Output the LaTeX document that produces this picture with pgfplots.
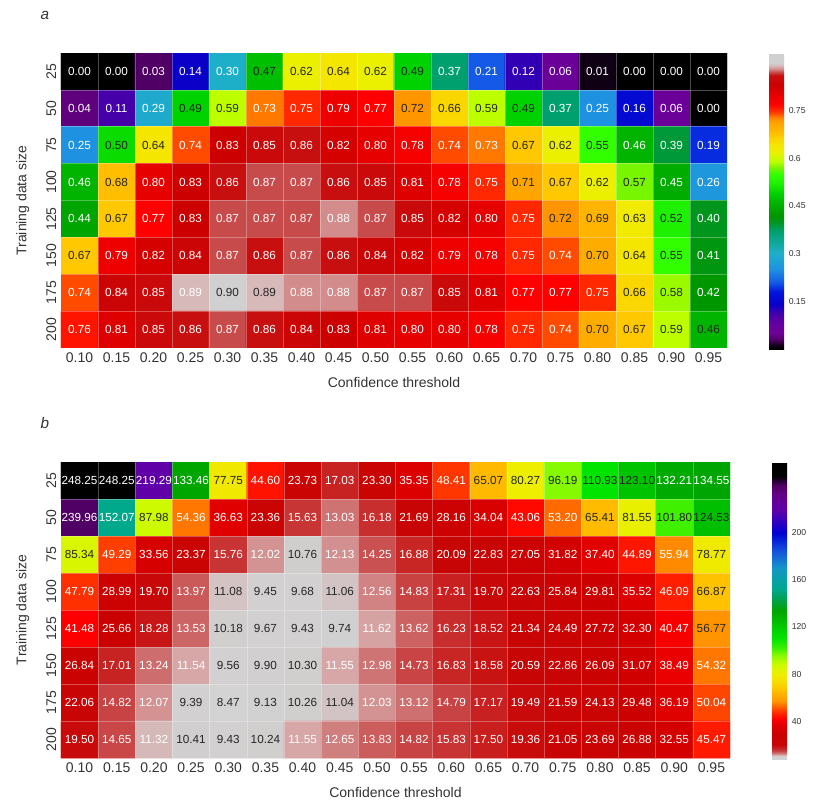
\documentclass[border=0pt]{standalone}
\usepackage{fontspec}
\setmainfont{Liberation Sans}
\usepackage{pgfplots}
\usepackage{pgfplotstable}
\pgfplotsset{compat=1.18}

% accuracy (panel a), 8 rows (25..200) x 18 thresholds (0.10..0.95)
% c = text darkness: 0 = white text, 85 = dark text
\pgfplotstableread[row sep=\\]{
v c \\
0.00 0 \\ 0.00 0 \\ 0.03 0 \\ 0.14 0 \\ 0.30 0 \\ 0.47 85 \\ 0.62 85 \\ 0.64 85 \\ 0.62 85 \\ 0.49 85 \\ 0.37 0 \\ 0.21 0 \\ 0.12 0 \\ 0.06 0 \\ 0.01 0 \\ 0.00 0 \\ 0.00 0 \\ 0.00 0 \\
0.04 0 \\ 0.11 0 \\ 0.29 0 \\ 0.49 85 \\ 0.59 85 \\ 0.73 0 \\ 0.75 0 \\ 0.79 0 \\ 0.77 0 \\ 0.72 85 \\ 0.66 85 \\ 0.59 85 \\ 0.49 85 \\ 0.37 0 \\ 0.25 0 \\ 0.16 0 \\ 0.06 0 \\ 0.00 0 \\
0.25 0 \\ 0.50 85 \\ 0.64 85 \\ 0.74 0 \\ 0.83 0 \\ 0.85 0 \\ 0.86 0 \\ 0.82 0 \\ 0.80 0 \\ 0.78 0 \\ 0.74 0 \\ 0.73 0 \\ 0.67 85 \\ 0.62 85 \\ 0.55 85 \\ 0.46 0 \\ 0.39 0 \\ 0.19 0 \\
0.46 0 \\ 0.68 85 \\ 0.80 0 \\ 0.83 0 \\ 0.86 0 \\ 0.87 0 \\ 0.87 0 \\ 0.86 0 \\ 0.85 0 \\ 0.81 0 \\ 0.78 0 \\ 0.75 0 \\ 0.71 85 \\ 0.67 85 \\ 0.62 85 \\ 0.57 85 \\ 0.45 0 \\ 0.26 0 \\
0.44 0 \\ 0.67 85 \\ 0.77 0 \\ 0.83 0 \\ 0.87 0 \\ 0.87 0 \\ 0.87 0 \\ 0.88 0 \\ 0.87 0 \\ 0.85 0 \\ 0.82 0 \\ 0.80 0 \\ 0.75 0 \\ 0.72 85 \\ 0.69 85 \\ 0.63 85 \\ 0.52 85 \\ 0.40 0 \\
0.67 85 \\ 0.79 0 \\ 0.82 0 \\ 0.84 0 \\ 0.87 0 \\ 0.86 0 \\ 0.87 0 \\ 0.86 0 \\ 0.84 0 \\ 0.82 0 \\ 0.79 0 \\ 0.78 0 \\ 0.75 0 \\ 0.74 0 \\ 0.70 85 \\ 0.64 85 \\ 0.55 85 \\ 0.41 0 \\
0.74 0 \\ 0.84 0 \\ 0.85 0 \\ 0.89 0 \\ 0.90 85 \\ 0.89 85 \\ 0.88 0 \\ 0.88 0 \\ 0.87 0 \\ 0.87 0 \\ 0.85 0 \\ 0.81 0 \\ 0.77 0 \\ 0.77 0 \\ 0.75 0 \\ 0.66 85 \\ 0.58 85 \\ 0.42 0 \\
0.76 0 \\ 0.81 0 \\ 0.85 0 \\ 0.86 0 \\ 0.87 0 \\ 0.86 0 \\ 0.84 0 \\ 0.83 0 \\ 0.81 0 \\ 0.80 0 \\ 0.80 0 \\ 0.78 0 \\ 0.75 0 \\ 0.74 0 \\ 0.70 85 \\ 0.67 85 \\ 0.59 85 \\ 0.46 85 \\
}\tabA

% time (panel b)
\pgfplotstableread[row sep=\\]{
v c \\
248.25 0 \\ 248.25 0 \\ 219.29 0 \\ 133.46 0 \\ 77.75 85 \\ 44.60 0 \\ 23.73 0 \\ 17.03 0 \\ 23.30 0 \\ 35.35 0 \\ 48.41 0 \\ 65.07 85 \\ 80.27 85 \\ 96.19 85 \\ 110.93 85 \\ 123.10 85 \\ 132.21 0 \\ 134.55 0 \\
239.96 0 \\ 152.07 0 \\ 87.98 85 \\ 54.36 0 \\ 36.63 0 \\ 23.36 0 \\ 15.63 0 \\ 13.03 0 \\ 16.18 0 \\ 21.69 0 \\ 28.16 0 \\ 34.04 0 \\ 43.06 0 \\ 53.20 0 \\ 65.41 85 \\ 81.55 85 \\ 101.80 85 \\ 124.53 85 \\
85.34 85 \\ 49.29 0 \\ 33.56 0 \\ 23.37 0 \\ 15.76 0 \\ 12.02 0 \\ 10.76 85 \\ 12.13 0 \\ 14.25 0 \\ 16.88 0 \\ 20.09 0 \\ 22.83 0 \\ 27.05 0 \\ 31.82 0 \\ 37.40 0 \\ 44.89 0 \\ 55.94 0 \\ 78.77 85 \\
47.79 0 \\ 28.99 0 \\ 19.70 0 \\ 13.97 0 \\ 11.08 85 \\ 9.45 85 \\ 9.68 85 \\ 11.06 85 \\ 12.56 0 \\ 14.83 0 \\ 17.31 0 \\ 19.70 0 \\ 22.63 0 \\ 25.84 0 \\ 29.81 0 \\ 35.52 0 \\ 46.09 0 \\ 66.87 85 \\
41.48 0 \\ 25.66 0 \\ 18.28 0 \\ 13.53 0 \\ 10.18 85 \\ 9.67 85 \\ 9.43 85 \\ 9.74 85 \\ 11.62 0 \\ 13.62 0 \\ 16.23 0 \\ 18.52 0 \\ 21.34 0 \\ 24.49 0 \\ 27.72 0 \\ 32.30 0 \\ 40.47 0 \\ 56.77 85 \\
26.84 0 \\ 17.01 0 \\ 13.24 0 \\ 11.54 0 \\ 9.56 85 \\ 9.90 85 \\ 10.30 85 \\ 11.55 0 \\ 12.98 0 \\ 14.73 0 \\ 16.83 0 \\ 18.58 0 \\ 20.59 0 \\ 22.86 0 \\ 26.09 0 \\ 31.07 0 \\ 38.49 0 \\ 54.32 0 \\
22.06 0 \\ 14.82 0 \\ 12.07 0 \\ 9.39 85 \\ 8.47 85 \\ 9.13 85 \\ 10.26 85 \\ 11.04 85 \\ 12.03 0 \\ 13.12 0 \\ 14.79 0 \\ 17.17 0 \\ 19.49 0 \\ 21.59 0 \\ 24.13 0 \\ 29.48 0 \\ 36.19 0 \\ 50.04 0 \\
19.50 0 \\ 14.65 0 \\ 11.32 0 \\ 10.41 85 \\ 9.43 85 \\ 10.24 85 \\ 11.55 0 \\ 12.65 0 \\ 13.83 0 \\ 14.82 0 \\ 15.83 0 \\ 17.50 0 \\ 19.36 0 \\ 21.05 0 \\ 23.69 0 \\ 26.88 0 \\ 32.55 0 \\ 45.47 0 \\
}\tabB

\pgfplotsset{
  % positions = value x 100
  colormap={topmap}{
    rgb255(0pt)=(0,0,0) rgb255(1pt)=(15,0,20) rgb255(3pt)=(80,0,100) rgb255(5pt)=(110,0,150)
    rgb255(8pt)=(100,0,160) rgb255(11pt)=(70,0,170) rgb255(14pt)=(10,0,200) rgb255(18pt)=(0,20,220)
    rgb255(21pt)=(20,90,230) rgb255(25pt)=(30,145,225) rgb255(30pt)=(30,175,200) rgb255(37pt)=(0,160,110)
    rgb255(40pt)=(0,150,30) rgb255(42pt)=(0,150,0) rgb255(46pt)=(0,180,0) rgb255(49pt)=(0,210,0)
    rgb255(52pt)=(30,240,0) rgb255(55pt)=(50,255,0) rgb255(57pt)=(120,245,0) rgb255(59pt)=(190,255,0)
    rgb255(62pt)=(235,240,0) rgb255(64pt)=(245,230,0) rgb255(66pt)=(250,215,0) rgb255(67pt)=(255,200,0)
    rgb255(69pt)=(255,180,0) rgb255(71pt)=(255,165,0) rgb255(72pt)=(255,150,0) rgb255(73pt)=(255,120,0)
    rgb255(74pt)=(255,75,0) rgb255(75pt)=(255,40,0) rgb255(77pt)=(255,0,0) rgb255(80pt)=(230,0,0)
    rgb255(83pt)=(205,0,0) rgb255(86pt)=(200,15,15) rgb255(87pt)=(200,75,75) rgb255(88pt)=(210,140,140)
    rgb255(89pt)=(215,185,185) rgb255(90pt)=(208,208,208) rgb255(93pt)=(208,208,208)},
  % positions = 4 x (value - 8)
  colormap={botmap}{
    rgb255(0pt)=(212,212,212) rgb255(11pt)=(208,205,205) rgb255(13pt)=(212,190,190) rgb255(14pt)=(215,168,168)
    rgb255(16pt)=(212,148,148) rgb255(20pt)=(206,115,115) rgb255(24pt)=(202,88,88) rgb255(28pt)=(200,62,62)
    rgb255(36pt)=(200,35,35) rgb255(48pt)=(200,5,5) rgb255(88pt)=(205,0,0) rgb255(116pt)=(225,0,0)
    rgb255(136pt)=(255,0,0) rgb255(152pt)=(255,30,0) rgb255(168pt)=(255,70,0) rgb255(184pt)=(255,115,0)
    rgb255(196pt)=(255,150,0) rgb255(216pt)=(255,172,0) rgb255(232pt)=(255,190,0) rgb255(256pt)=(250,215,0)
    rgb255(288pt)=(238,238,0) rgb255(320pt)=(205,250,0) rgb255(352pt)=(135,250,0) rgb255(376pt)=(60,240,0)
    rgb255(412pt)=(0,228,0) rgb255(460pt)=(0,195,0) rgb255(504pt)=(0,165,0) rgb255(548pt)=(0,160,90)
    rgb255(576pt)=(0,168,140) rgb255(648pt)=(20,150,200) rgb255(708pt)=(20,80,220) rgb255(768pt)=(0,0,210)
    rgb255(844pt)=(95,0,170) rgb255(896pt)=(100,0,140) rgb255(928pt)=(80,0,100) rgb255(960pt)=(0,0,0)
    rgb255(1008pt)=(0,0,0)},
  heat/.style={
    scale only axis, enlargelimits=false, axis on top,
    xmin=-0.5, xmax=17.5, ymin=-0.5, ymax=7.5, y dir=reverse,
    xtick={0,...,17}, ytick={0,...,7},
    xticklabels={0.10,0.15,0.20,0.25,0.30,0.35,0.40,0.45,0.50,0.55,0.60,0.65,0.70,0.75,0.80,0.85,0.90,0.95},
    yticklabels={25,50,75,100,125,150,175,200},
    minor xtick={0.5,1.5,...,16.5}, minor ytick={0.5,1.5,...,6.5},
    xminorgrids, yminorgrids, minor grid style={white, line width=0.4pt, opacity=0.3},
    yticklabel style={rotate=90, anchor=south},
    major tick length=0pt, minor tick length=0pt, axis line style={draw=none},
    tick label style={font=\fontsize{10.5}{12}\selectfont, text=black!80},
    label style={font=\fontsize{10.5}{12}\selectfont, text=black!80},
    xlabel={Confidence threshold}, ylabel={Training data size},
    xlabel style={yshift=-4pt},
    ylabel style={yshift=6pt},
    colorbar,
  },
  cbar/.style={at={(parent axis.north east)}, anchor=north west, xshift=23pt,
    scale only axis, width=11.25pt, major tick length=0pt, axis line style={draw=none},
    yticklabel style={font=\fontsize{6.5}{7}\selectfont, text=black!80}},
}

% column / row of each cell from its position in the table (18 per row)
\newcommand{\heatcells}[1]{%
  \addplot[matrix plot*, mesh/cols=18, point meta=explicit]
    table[x expr={\coordindex-18*floor((\coordindex+0.5)/18)},
          y expr={floor((\coordindex+0.5)/18)}, meta=v]{#1};
  \addplot[draw=none, mark=none, point meta=explicit symbolic, nodes near coords,
    visualization depends on={\thisrow{c}\as\tc},
    nodes near coords style={anchor=center, text=black!\tc!white, font=\fontsize{8.8}{10}\selectfont}]
    table[x expr={\coordindex-18*floor((\coordindex+0.5)/18)},
          y expr={floor((\coordindex+0.5)/18)}, meta=v]{#1};
}

\begin{document}
\begin{tikzpicture}
\useasboundingbox (-45.75pt,39.75pt) rectangle (564pt,-560.25pt);

\begin{axis}[heat, at={(0,0)}, anchor=north west, width=499.5pt, height=221.25pt,
  colormap name=topmap, point meta min=0, point meta max=0.93,
  colorbar style={cbar, height=222pt, ytick={0.15,0.3,0.45,0.6,0.75},
    yticklabels={0.15,0.3,0.45,0.6,0.75}}]
\heatcells{\tabA}
\end{axis}

\begin{axis}[heat, at={(0,-306.75pt)}, anchor=north west, width=501.75pt, height=222pt,
  colormap name=botmap, point meta min=8, point meta max=260,
  colorbar style={cbar, height=222.75pt, ytick={40,80,120,160,200},
    yticklabels={40,80,120,160,200}}]
\heatcells{\tabB}
\end{axis}

\node[font=\itshape\fontsize{11.5}{12}\selectfont, text=black!80] at (-12pt,28.5pt) {a};
\node[font=\itshape\fontsize{11.5}{12}\selectfont, text=black!80] at (-12pt,-277.5pt) {b};
\end{tikzpicture}
\end{document}
